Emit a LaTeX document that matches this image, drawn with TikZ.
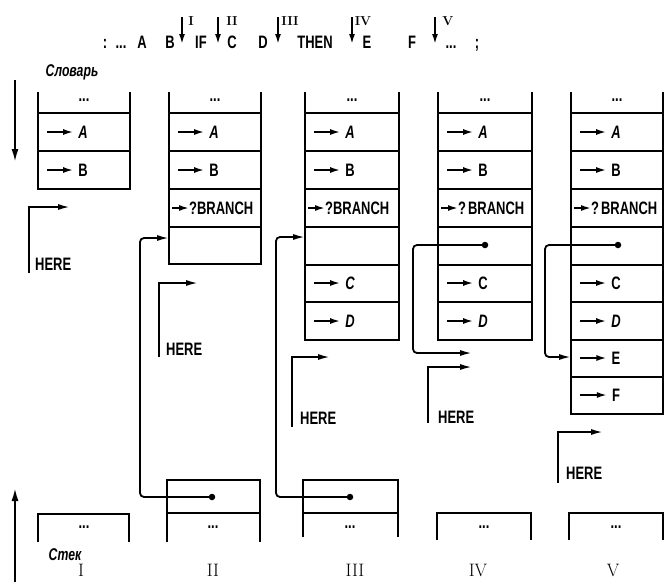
\documentclass[tikz,border=0pt]{standalone}
\usepackage{fontspec}
\newfontfamily\cf[FakeStretch=0.72]{Liberation Sans}
\usetikzlibrary{arrows.meta,calc}
\newcommand\dcol[4]{%
  \draw[box] (#1,92) -- (#1,#3) -- (#2,#3) -- (#2,92);
  \foreach \yy in {#4} {\draw[box] (#1,\yy) -- (#2,\yy);}
}
\newcommand\cellrow[4]{%
  \node[lbl] (#1) at (#2+45,#3) {#4};
  \coordinate (#1s) at (#2+9,#3);
  \draw[cellarr] (#1s) -- ($(#1.west)+(-5,0)$);
}
\newcommand\brrow[3]{%
  \node[lbl,anchor=west] (#1) at (#2+20,208) {#3};
  \coordinate (#1s) at (#2+3,208);
  \draw[cellarr] (#1s) -- (#1.west);
}
\begin{document}
\begin{tikzpicture}[x=1pt,y=-1pt,
  box/.style={line width=2.2pt},
  lbl/.style={font=\cf\bfseries\fontsize{18}{18}\selectfont, inner sep=0pt},
  ilbl/.style={font=\cf\bfseries\itshape\fontsize{17}{17}\selectfont, inner sep=0pt},
  rn/.style={font=\rmfamily\fontsize{18}{18}\selectfont, inner sep=0pt},
  srn/.style={font=\rmfamily\bfseries\fontsize{13}{13}\selectfont, inner sep=0pt},
  cellarr/.style={line width=1.7pt, -{Latex[length=10pt,width=6pt]}},
  ptr/.style={line width=1.8pt, rounded corners=4pt, -{Latex[length=12pt,width=6pt]}},
  bigarr/.style={line width=2pt, -{Latex[length=13pt,width=7pt]}},
  tarr/.style={line width=1.8pt, -{Latex[length=10pt,width=6pt]}},
  dotn/.style={circle, fill=black, inner sep=0pt, minimum size=6.5pt},
]
\useasboundingbox (0,0) rectangle (665,582);

% ---------- top line ----------
\node[lbl,anchor=base] (t1) at (105,48) {:};
\node[lbl,anchor=base] (t2) at (121,48) {...};
\node[lbl,anchor=base] (t3) at (142,48) {A};
\node[lbl,anchor=base] (t4) at (170,48) {B};
\node[lbl,anchor=base] (t5) at (201,48) {IF};
\node[lbl,anchor=base] (t6) at (232,48) {C};
\node[lbl,anchor=base] (t7) at (263,48) {D};
\node[lbl,anchor=base] (t8) at (315,48) {THEN};
\node[lbl,anchor=base] (t9) at (367,48) {E};
\node[lbl,anchor=base] (t10) at (412,48) {F};
\node[lbl,anchor=base] (t11) at (451,48) {...};
\node[lbl,anchor=base] (t12) at (477,48) {;};
\node[srn] (n1) at (191,21) {I};
\node[srn] (n2) at (232,21) {II};
\node[srn] (n3) at (290,21) {III};
\node[srn] (n4) at (363,21) {IV};
\node[srn] (n5) at (448,21) {V};
\coordinate (a1s) at (182,17); \coordinate (a1e) at (182,44);
\coordinate (a2s) at (218,17); \coordinate (a2e) at (218,44);
\coordinate (a3s) at (278,17); \coordinate (a3e) at (278,44);
\coordinate (a4s) at (352,17); \coordinate (a4e) at (352,44);
\coordinate (a5s) at (435,17); \coordinate (a5e) at (435,44);
\foreach \k in {1,...,5} {\draw[tarr] (a\k s) -- (a\k e);}

% ---------- labels and side arrows ----------
\node[ilbl] (slov) at (72,72) {Словарь};
\coordinate (dA) at (15,80); \coordinate (dB) at (15,162);
\draw[bigarr] (dA) -- (dB);
\node[ilbl] (stek) at (65,555) {Стек};
\coordinate (sA) at (15,582); \coordinate (sB) at (15,488);
\draw[bigarr] (sA) -- (sB);

% ---------- dictionary columns ----------
\dcol{38}{130}{189}{113,151}
\dcol{169}{261}{264}{113,151,189,227}
\dcol{305}{399}{340}{113,151,189,227,265,302}
\dcol{438}{532}{340}{113,151,189,227,265,302}
\dcol{571}{663}{414}{113,151,189,227,265,302,340,377}

% dots rows
\node[lbl] (d1) at (84,100) {...};
\node[lbl] (d2) at (215,100) {...};
\node[lbl] (d3) at (352,100) {...};
\node[lbl] (d4) at (485,100) {...};
\node[lbl] (d5) at (617,100) {...};

% column I
\cellrow{IA}{38}{132}{\itshape A}
\cellrow{IB}{38}{170}{B}
% column II
\cellrow{IIA}{169}{132}{\itshape A}
\cellrow{IIB}{169}{170}{B}
\brrow{IIbr}{169}{?BRANCH}
% column III
\cellrow{IIIA}{305}{132}{\itshape A}
\cellrow{IIIB}{305}{170}{B}
\brrow{IIIbr}{305}{?BRANCH}
\cellrow{IIIC}{305}{283}{\itshape C}
\cellrow{IIID}{305}{321}{\itshape D}
% column IV
\cellrow{IVA}{438}{132}{\itshape A}
\cellrow{IVB}{438}{170}{B}
\brrow{IVbr}{438}{?\hspace{2pt}BRANCH}
\cellrow{IVC}{438}{283}{C}
\cellrow{IVD}{438}{321}{\itshape D}
% column V
\cellrow{VA}{571}{132}{\itshape A}
\cellrow{VB}{571}{170}{B}
\brrow{Vbr}{571}{?\hspace{2pt}BRANCH}
\cellrow{VC}{571}{283}{C}
\cellrow{VD}{571}{321}{\itshape D}
\cellrow{VE}{571}{358}{E}
\cellrow{VF}{571}{395}{F}

% pointers inside dictionary (IV, V)
\node[dotn] (pIV) at (485,245) {};
\coordinate (pIVe) at (472,353);
\draw[ptr] (pIV.center) -- (413,245) -- (413,353) -- (pIVe);
\node[dotn] (pV) at (618,245) {};
\coordinate (pVe) at (571,357);
\draw[ptr] (pV.center) -- (545,245) -- (545,357) -- (pVe);

% ---------- HERE markers ----------
\node[lbl,anchor=west] (hI) at (35,264) {HERE};
\draw[ptr,rounded corners=0pt] (29,273) -- (29,207) -- (70,207);
\node[lbl,anchor=west] (hII) at (166,349) {HERE};
\draw[ptr,rounded corners=0pt] (159,357) -- (159,283) -- (198,283);
\node[lbl,anchor=west] (hIII) at (300,418) {HERE};
\draw[ptr,rounded corners=0pt] (292,427) -- (292,357) -- (330,357);
\node[lbl,anchor=west] (hIV) at (438,417) {HERE};
\draw[ptr,rounded corners=0pt] (428,423) -- (428,367) -- (472,367);
\node[lbl,anchor=west] (hV) at (566,473) {HERE};
\draw[ptr,rounded corners=0pt] (558,483) -- (558,432) -- (603,432);

% ---------- stack ----------
\draw[box] (38,542) -- (38,514) -- (129,514) -- (129,542);
\node[lbl] (sI) at (84,527) {...};
\draw[box] (167,542) -- (167,480) -- (260,480) -- (260,542);
\draw[box] (167,513) -- (260,513);
\node[lbl] (sII) at (213,527) {...};
\draw[box] (303,537) -- (303,480) -- (398,480) -- (398,537);
\draw[box] (303,513) -- (398,513);
\node[lbl] (sIII) at (350,527) {...};
\draw[box] (437,540) -- (437,513) -- (531,513) -- (531,540);
\node[lbl] (sIV) at (484,527) {...};
\draw[box] (569,540) -- (569,513) -- (663,513) -- (663,540);
\node[lbl] (sV) at (616,527) {...};

% stack pointers
\node[dotn] (pII) at (212,497) {};
\coordinate (pIIe) at (169,238);
\draw[ptr] (pII.center) -- (140,497) -- (140,238) -- (pIIe);
\node[dotn] (pIII) at (350,497) {};
\coordinate (pIIIe) at (305,237);
\draw[ptr] (pIII.center) -- (276,497) -- (276,237) -- (pIIIe);

% numerals
\node[rn] (rI) at (81,570) {I};
\node[rn] (rII) at (213,570) {II};
\node[rn] (rIII) at (355,570) {III};
\node[rn] (rIV) at (478,570) {IV};
\node[rn] (rV) at (613,570) {V};
\end{tikzpicture}
\end{document}
